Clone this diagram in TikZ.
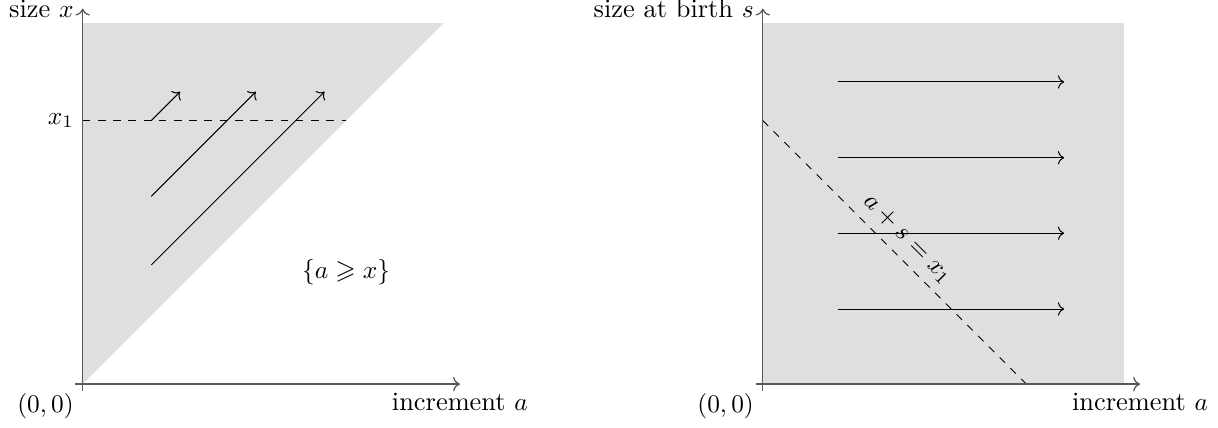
\documentclass[tikz,border=0pt]{standalone}
\usepackage{amsmath,amssymb}
\usetikzlibrary{positioning, arrows.meta}

\begin{document}
\begin{tikzpicture}[x=0.5cm, y=0.5cm,
  every node/.style={font=\fontsize{10.4}{12.5}\selectfont},
  axis/.style={->, draw=black!65, line width=0.5pt},
  region/.style={fill=gray!25, draw=none},
  flow/.style={->, black},
  guide/.style={dashed, black},
]
\useasboundingbox (-2.29,-1.19) rectangle (31.45,10.64);

% ---- Left panel: size against increment ----
\fill[region] (0,0) -- (0,10) -- (10,10) -- cycle;
\coordinate (lo) at (0,0);
\coordinate (lxs) at (-0.2,0);
\coordinate (lxe) at (10.45,0);
\coordinate (lys) at (0,-0.2);
\coordinate (lye) at (0,10.4);

% threshold x_1
\coordinate (lx1) at (0,7.3);
\coordinate (lx1e) at (7.3,7.3);
\draw[guide] (lx1) -- (lx1e);
\node[left] (lx1l) at (lx1) {$x_1$};

% trajectories
\foreach \y/\xe [count=\i] in {7.3/2.7, 5.2/4.8, 3.3/6.7} {
  \coordinate (ts\i) at (1.9,\y);
  \coordinate (te\i) at (\xe,8.1);
  \draw[flow] (ts\i) -- (te\i);
}
\node (lreg) at (7.3,3.1) {$\{a \geqslant x\}$};

\draw[axis] (lxs) -- (lxe);
\draw[axis] (lys) -- (lye);
\node[left] (lyl) at (lye) {size $x$};
\node[below] (lxl) at (lxe) {increment $a$};
\node[below left] (lol) at (lo) {$(0,0)$};

% ---- Right panel: size at birth against increment ----
\begin{scope}[shift={(18.84,0)}]
  \fill[region] (0,0) rectangle (10,10);
  \coordinate (ro) at (0,0);
  \coordinate (rxs) at (-0.2,0);
  \coordinate (rxe) at (10.45,0);
  \coordinate (rys) at (0,-0.2);
  \coordinate (rye) at (0,10.4);

  % line a + s = x_1
  \coordinate (rl1) at (0,7.3);
  \coordinate (rl2) at (7.3,0);
  \draw[guide] (rl1) -- node[sloped, above] (rlab) {$a+s=x_1$} (rl2);

  % trajectories
  \foreach \y [count=\i] in {2.08, 4.18, 6.27, 8.37} {
    \coordinate (rs\i) at (2.08,\y);
    \coordinate (re\i) at (8.35,\y);
    \draw[flow] (rs\i) -- (re\i);
  }

  \draw[axis] (rxs) -- (rxe);
  \draw[axis] (rys) -- (rye);
  \node[left] (ryl) at (rye) {size at birth $s$};
  \node[below] (rxl) at (rxe) {increment $a$};
  \node[below left] (rol) at (ro) {$(0,0)$};
\end{scope}
\end{tikzpicture}
\end{document}
